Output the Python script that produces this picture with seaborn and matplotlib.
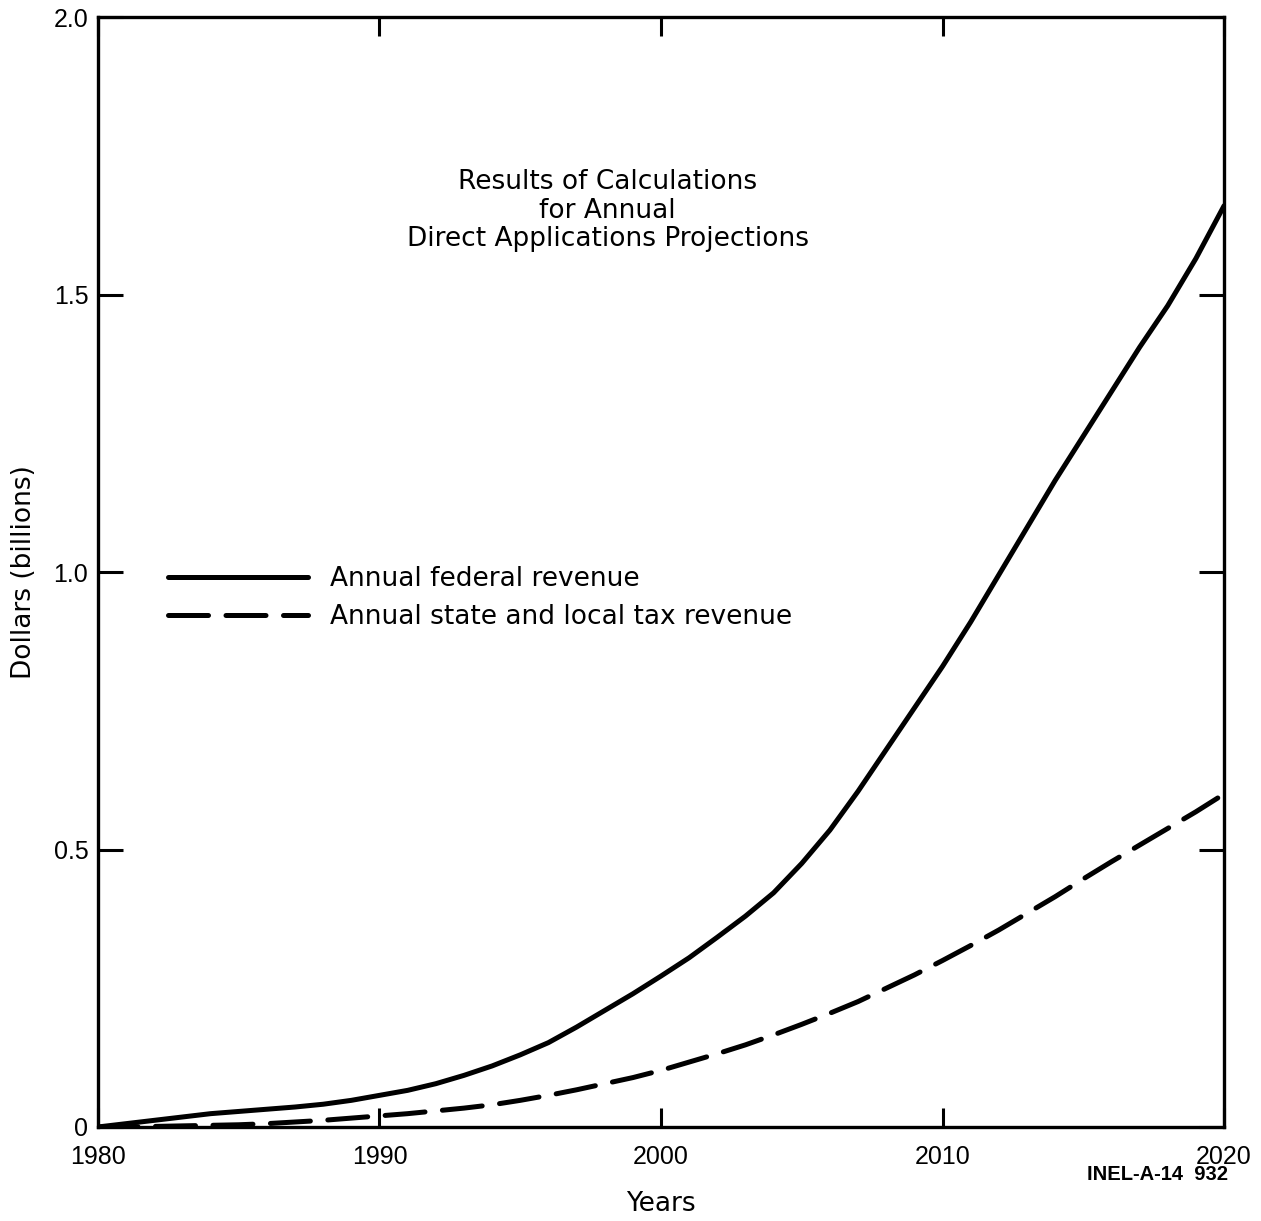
import pandas as pd
import seaborn as sns
import matplotlib.pyplot as plt

years = list(range(1980, 2021))
federal = [0.000, 0.006, 0.012, 0.018, 0.024, 0.028, 0.032, 0.036, 0.041, 0.048,
           0.057, 0.066, 0.078, 0.093, 0.110, 0.130, 0.152, 0.180, 0.210, 0.240,
           0.272, 0.305, 0.342, 0.380, 0.422, 0.475, 0.535, 0.605, 0.680, 0.755,
           0.830, 0.910, 0.995, 1.080, 1.165, 1.245, 1.325, 1.405, 1.480, 1.565,
           1.660]
state_local = [0.000, 0.000, 0.001, 0.002, 0.003, 0.004, 0.006, 0.009, 0.012, 0.016,
               0.020, 0.024, 0.029, 0.034, 0.040, 0.048, 0.057, 0.067, 0.078, 0.089,
               0.102, 0.117, 0.132, 0.148, 0.166, 0.185, 0.205, 0.226, 0.250, 0.274,
               0.300, 0.327, 0.355, 0.385, 0.415, 0.447, 0.478, 0.508, 0.538, 0.568,
               0.600]
x_ticks = [1980, 1990, 2000, 2010, 2020]
y_ticks = [0, 0.5, 1.0, 1.5, 2.0]
y_tick_labels = ["0", "0.5", "1.0", "1.5", "2.0"]

df = pd.DataFrame({"Years": years, "federal": federal, "state": state_local})

sns.set_theme(style="ticks")
plt.rcParams["font.family"] = ["Liberation Sans", "DejaVu Sans"]
plt.rcParams["text.color"] = "black"
plt.rcParams["axes.labelcolor"] = "black"

fig = plt.figure(figsize=(12.61, 12.21), dpi=100)
ax = fig.add_axes([0.0777, 0.077, 0.893, 0.909])

sns.lineplot(data=df, x="Years", y="federal", color="black", linewidth=3.6,
             label="Annual federal revenue", ax=ax)
sns.lineplot(data=df, x="Years", y="state", color="black", linewidth=3.6,
             label="Annual state and local tax revenue", ax=ax)
lines = ax.get_lines()
lines[1].set_dashes((8, 3.5))
for ln in lines:
    ln.set_solid_joinstyle("round")
    ln.set_dash_capstyle("round")

ax.set_xlim(1980, 2020)
ax.set_ylim(0, 2.0)
ax.set_xticks(x_ticks)
ax.set_yticks(y_ticks)
ax.set_yticklabels(y_tick_labels)
ax.tick_params(direction="in", width=2.2, labelsize=18, colors="black",
               top=True, right=True)
ax.tick_params(axis="x", length=14, pad=13)
ax.tick_params(axis="y", length=18, pad=7)
for s in ax.spines.values():
    s.set_linewidth(2.4)
    s.set_color("black")

lab_font = {"family": "DejaVu Sans", "size": 19}
ax.set_xlabel("Years", fontdict=lab_font, labelpad=16)
ax.set_ylabel("Dollars (billions)", fontdict=lab_font, labelpad=12)

ax.text(1998.1, 1.726, "Results of Calculations\nfor Annual\nDirect Applications Projections",
        ha="center", va="top", linespacing=1.13, **lab_font)

leg = ax.legend(loc="upper left", bbox_to_anchor=(0.062, 0.505), frameon=False,
                prop={"family": "DejaVu Sans", "size": 19}, handlelength=5.3,
                handletextpad=0.83, labelspacing=0.45, borderpad=0, borderaxespad=0)
for h in leg.get_lines():
    h.set_linewidth(3.6)

fig.text(0.974, 0.038, "INEL-A-14  932", ha="right", va="center",
         fontsize=14.5, fontweight="bold")

fig.savefig("out.png", dpi=100, facecolor="white")
